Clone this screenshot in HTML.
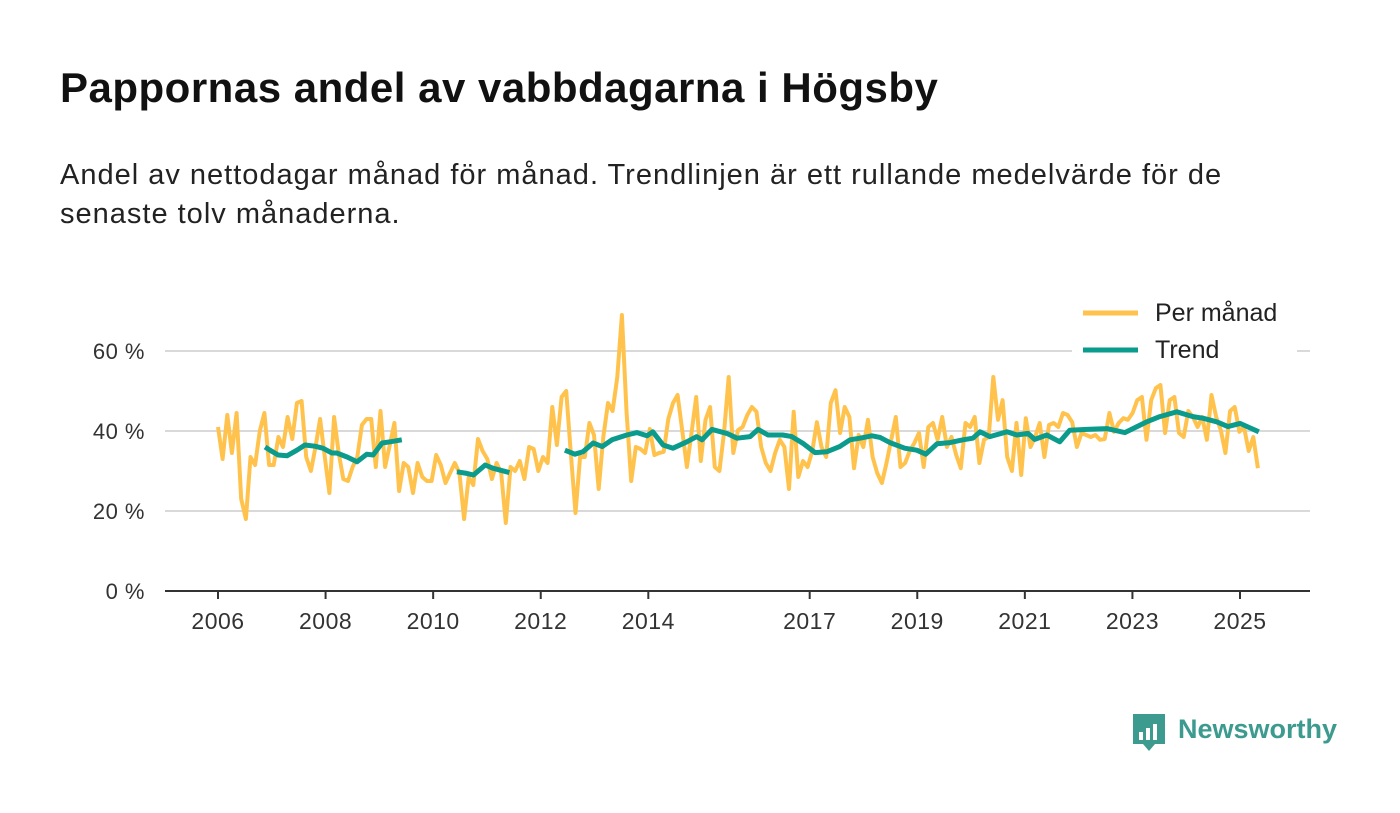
<!DOCTYPE html>
<html><head><meta charset="utf-8"><style>
body{margin:0;background:#fff;width:1400px;height:813px;overflow:hidden;font-family:"Liberation Sans","DejaVu Sans",sans-serif;}
#title{position:absolute;left:60px;top:64px;font-size:42px;font-weight:bold;color:#111;margin:0;letter-spacing:0.5px}
#sub{position:absolute;left:60px;top:156px;font-size:29px;line-height:39px;color:#222;width:1235px;letter-spacing:1px}
svg{position:absolute;left:0;top:0}
</style></head><body>
<h1 id="title">Pappornas andel av vabbdagarna i Högsby</h1>
<div id="sub">Andel av nettodagar månad för månad. Trendlinjen är ett rullande medelvärde för de senaste tolv månaderna.</div>
<svg id="chart" width="1400" height="813"></svg>
<script>
const yTicks=[0,20,40,60];
const yTickLabels=["0 %","20 %","40 %","60 %"];
const xTicks=[2006,2008,2010,2012,2014,2017,2019,2021,2023,2025];
const startYear=2006;
const lastMonth=232;
const monthly=[41,33,44,34.5,44.5,23,18,33.5,31.5,40,44.5,31.5,31.5,38.5,36,43.5,38,47,47.5,33.5,30,36,43,33.5,24.5,43.5,34.5,28,27.5,31,33.5,41.5,43,43,31,45,31,36.5,42,25,32,31,24.5,32,28.5,27.5,27.5,34,31.5,27,29.5,32,29.5,18,28.5,26.5,38,35,33,28,32,29.5,17,31,30,32.5,28,36,
35.5,30,33.5,32,46,36.5,48.5,50,34.5,19.5,33.5,33.5,42,39,25.5,38.5,47,45,53.5,69,45,27.5,36,35.5,34.5,40.5,34,34.5,34.8,43,47,49,40,31,39.5,48.5,32.5,42.8,46,31,30,39.5,53.5,34.5,40.2,41,44,46,44.8,36,32,30,34.5,37.8,36,25.5,44.8,28.5,32.5,31,35,42.2,36,33.5,47,50.2,39.5,46,43.5,
30.7,39,36,42.8,33.5,29.5,27,32,37.8,43.5,31,32,35,37,39.5,31,41,42,37.8,43.5,36,38.5,34,30.7,42,41,43.5,32,37.8,38.5,53.5,42.8,47.7,33.5,30,42,29,43.2,36,38.5,42,33.5,41.5,42,41,44.5,44,42.2,36,39.5,39,38.5,39,37.8,38,44.5,39.8,42,43.2,42.8,44.5,47.7,48.5,37.8,47.7,50.7,51.5,39.5,47.7,48.5,39.5,38.5,45,43.5,41,43.5,37.8,49,43.5,40.2,34.5,45,46,39.8,41,35,38.5,30.7];
const trendMonths=[[10.5,11.6,13.4,15.4,17.6,19.4,21.6,23.4,25.4,26.5,28.8,31,33.2,34.6,36.6,38.4,41],
[53.3,55.5,57,59.6,61.3,63,65],
[77.4,79.6,81.4,83.7,85.7,87.9,91.2,93.5,95.7,97,99.3,101.5,104.6,106.8,108,110.2,113.5,115.8,118.7,120.5,122.7,126,128,130.5,133.2,135.8,138.7,141,143.2,145.9,147.7,149.9,153.2,155.9,157.9,160.4,163.3,166.2,168.4,170,172.2,176,178.2,180.7,182.2,184.9,187.8,190,193.8,198.3,202.3,207.2,210.1,213.9,217.5,219.7,222.8,225.3,228,230.6,232.2]];
const trendValues=[[36,35.2,34,33.8,35.2,36.5,36.2,35.7,34.5,34.5,33.5,32.3,34.2,34,37,37.3,37.8],
[29.8,29.4,29,31.5,30.7,30.2,29.6],
[35.2,34.2,34.8,37,36.1,37.8,39,39.6,38.8,39.8,36.5,35.7,37.3,38.6,37.8,40.4,39.4,38.2,38.6,40.4,39,39,38.6,36.9,34.6,34.8,36.1,37.8,38.2,38.8,38.4,37.1,35.7,35.2,34.2,36.8,37.1,37.8,38.2,39.8,38.6,39.8,39,39.4,37.9,39,37.3,40.2,40.4,40.6,39.6,42.3,43.6,44.8,43.6,43.2,42.3,41.1,41.9,40.6,39.8]];

const svg=document.getElementById('chart');
const NS='http://www.w3.org/2000/svg';
const X0=218,PX_YEAR=53.79,Y0=591,PX_PCT=4;
function xs(year){return X0+(year-startYear)*PX_YEAR;}
function xm(m){return xs(startYear+m/12);}
function ys(v){return Y0-v*PX_PCT;}
function mk(tag,attrs,parent){const e=document.createElementNS(NS,tag);for(const k in attrs)e.setAttribute(k,attrs[k]);(parent||svg).appendChild(e);return e;}

yTicks.forEach((t,i)=>{
  if(t>0){const g=mk('line',{x1:165,x2:1310,y1:ys(t),y2:ys(t),stroke:'#d9d9d9','stroke-width':2});
  
  }
  const l=mk('text',{x:145,y:ys(t)+8,'text-anchor':'end','font-size':22,fill:'#333','letter-spacing':'0.5'});
  l.textContent=yTickLabels[i];
  
  
});
const ax=mk('line',{x1:165,x2:1310,y1:Y0,y2:Y0,stroke:'#333','stroke-width':2});


xTicks.forEach(t=>{
  const tk=mk('line',{x1:xs(t),x2:xs(t),y1:Y0,y2:Y0+8,stroke:'#333','stroke-width':2});
  
  
  const l=mk('text',{x:xs(t),y:629,'text-anchor':'middle','font-size':23,fill:'#333','letter-spacing':'0.5'});
  l.textContent=t;
  
  
});
const step=lastMonth/(monthly.length-1);
const mp=mk('path',{d:monthly.map((v,i)=>(i?'L':'M')+xm(i*step).toFixed(1)+','+ys(v).toFixed(1)).join(''),fill:'none',stroke:'#ffc34d','stroke-width':4,'stroke-linejoin':'round'});


trendMonths.forEach((seg,s)=>{
  const p=mk('path',{d:seg.map((m,i)=>(i?'L':'M')+xm(m).toFixed(1)+','+ys(trendValues[s][i]).toFixed(1)).join(''),fill:'none',stroke:'#0a9b8c','stroke-width':5,'stroke-linejoin':'round'});
  
  
});
</script>
<svg width="1400" height="813" style="pointer-events:none">
<g>
<rect x="1072" y="292" width="225" height="78" fill="#fff"/>
<line x1="1083" x2="1138" y1="313" y2="313" stroke="#ffc34d" stroke-width="5"/>
<text x="1155" y="321" font-size="25" fill="#222">Per månad</text>
<line x1="1083" x2="1138" y1="350" y2="350" stroke="#0a9b8c" stroke-width="5"/>
<text x="1155" y="358" font-size="25" fill="#222">Trend</text>
</g>
<g>
<path d="M1133 714h32v30h-10l-6 7-6-7h-10z" fill="#3c9a8f"/>
<rect x="1139" y="732" width="4" height="8" fill="#fff"/><rect x="1146" y="728" width="4" height="12" fill="#fff"/><rect x="1153" y="724" width="4" height="16" fill="#fff"/>
<text x="1178" y="738" font-size="27" font-weight="bold" fill="#3c9a8f">Newsworthy</text>
</g>
</svg>
</body></html>
